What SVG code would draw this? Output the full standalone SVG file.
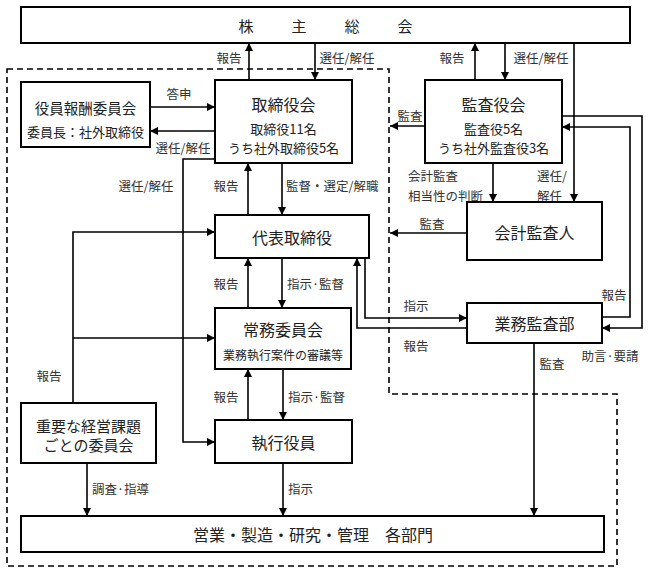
<svg xmlns="http://www.w3.org/2000/svg" width="648" height="574" viewBox="0 0 648 574">
<style>
  .box{fill:#fff;stroke:#000;stroke-width:2}
  .t{font-family:"Noto Sans CJK JP","Noto Sans CJK SC",sans-serif;fill:#222;text-anchor:middle;dominant-baseline:central}
  .title{font-size:16px}
  .sub{font-size:13px}
  .lbl{font-family:"Noto Sans CJK JP","Noto Sans CJK SC",sans-serif;fill:#333;font-size:12.5px;dominant-baseline:central}
  .m{text-anchor:middle}
  .s{text-anchor:start}
  .c{fill:none;stroke:#000;stroke-width:1.6}
  .a{marker-end:url(#ah)}
  .dash{fill:none;stroke:#000;stroke-width:1.6;stroke-dasharray:6 4}
</style>
<defs>
  <marker id="ah" markerUnits="userSpaceOnUse" markerWidth="9" markerHeight="9" refX="8" refY="4" orient="auto">
    <path d="M0,0 L8,4 L0,8 z" fill="#000"/>
  </marker>
</defs>
<rect width="648" height="574" fill="#fff"/>

<path class="dash" d="M7,69 H389 V394 H617 V566 H7 Z"/>

<g id="connectors">
  <line class="c a" x1="249" y1="80" x2="249" y2="43"/>
  <line class="c a" x1="315" y1="43" x2="315" y2="80"/>
  <line class="c a" x1="475" y1="80" x2="475" y2="43"/>
  <line class="c a" x1="505" y1="43" x2="505" y2="80"/>
  <line class="c a" x1="574" y1="43" x2="574" y2="202"/>
  <line class="c a" x1="150" y1="107" x2="215" y2="107"/>
  <line class="c a" x1="215" y1="131" x2="150" y2="131"/>
  <line class="c a" x1="425" y1="126" x2="390" y2="126"/>
  <path class="c a" d="M215,159 H183 V442 H215"/>
  <line class="c a" x1="248" y1="215" x2="248" y2="163"/>
  <line class="c a" x1="282" y1="163" x2="282" y2="215"/>
  <line class="c a" x1="248" y1="308" x2="248" y2="258"/>
  <line class="c a" x1="282" y1="258" x2="282" y2="308"/>
  <line class="c a" x1="248" y1="420" x2="248" y2="369"/>
  <line class="c a" x1="283" y1="369" x2="283" y2="420"/>
  <path class="c a" d="M73,403 V232 H215"/>
  <line class="c a" x1="73" y1="338" x2="215" y2="338"/>
  <path class="c a" d="M365,258 V318 H467"/>
  <path class="c a" d="M467,328 H357 V258"/>
  <line class="c a" x1="467" y1="233" x2="390" y2="233"/>
  <line class="c a" x1="493" y1="163" x2="493" y2="202"/>
  <path class="c a" d="M562,116 H642 V328 H602"/>
  <path class="c a" d="M602,317 H630 V127 H562"/>
  <line class="c a" x1="534" y1="343" x2="534" y2="516"/>
  <line class="c a" x1="87" y1="463" x2="87" y2="516"/>
  <line class="c a" x1="283" y1="463" x2="283" y2="516"/>

  <text class="lbl m" x="229" y="57">報告</text>
  <text class="lbl m" x="347" y="57">選任/解任</text>
  <text class="lbl m" x="452" y="57">報告</text>
  <text class="lbl m" x="541" y="57">選任/解任</text>
  <text class="lbl m" x="179" y="93">答申</text>
  <text class="lbl m" x="183" y="147">選任/解任</text>
  <text class="lbl m" x="410" y="115">監査</text>
  <text class="lbl m" x="146" y="185">選任/解任</text>
  <text class="lbl m" x="226" y="185">報告</text>
  <text class="lbl s" x="286" y="185">監督・選定/解職</text>
  <text class="lbl s" x="408" y="175.5">会計監査</text>
  <text class="lbl s" x="408" y="195">相当性の判断</text>
  <text class="lbl s" x="537" y="175.5">選任/</text>
  <text class="lbl s" x="537" y="195">解任</text>
  <text class="lbl m" x="432" y="223">監査</text>
  <text class="lbl m" x="226" y="283">報告</text>
  <text class="lbl s" x="287" y="283">指示·監督</text>
  <text class="lbl m" x="416" y="305">指示</text>
  <text class="lbl m" x="416" y="345">報告</text>
  <text class="lbl m" x="614" y="294">報告</text>
  <text class="lbl m" x="610" y="355">助言·要請</text>
  <text class="lbl m" x="552" y="363">監査</text>
  <text class="lbl m" x="49" y="375">報告</text>
  <text class="lbl m" x="226" y="396">報告</text>
  <text class="lbl s" x="288" y="396">指示·監督</text>
  <text class="lbl s" x="92" y="488">調査·指導</text>
  <text class="lbl s" x="288" y="488">指示</text>
</g>

<g id="shareholders">
  <rect class="box" x="21" y="7" width="609" height="36"/>
  <text class="t" y="25" style="font-size:15px"><tspan x="246">株</tspan><tspan x="299">主</tspan><tspan x="352">総</tspan><tspan x="405">会</tspan></text>
</g>
<g id="compensation">
  <rect class="box" x="21" y="82" width="129" height="65"/>
  <text class="t" x="85.5" y="107" style="font-size:14.5px">役員報酬委員会</text>
  <text class="t sub" x="85.5" y="131">委員長：社外取締役</text>
</g>
<g id="board">
  <rect class="box" x="215" y="80" width="137" height="83"/>
  <text class="t title" x="283.5" y="104">取締役会</text>
  <text class="t sub" x="283.5" y="128">取締役11名</text>
  <text class="t sub" x="283.5" y="147">うち社外取締役5名</text>
</g>
<g id="auditors">
  <rect class="box" x="425" y="80" width="137" height="83"/>
  <text class="t title" x="493.5" y="104">監査役会</text>
  <text class="t sub" x="493.5" y="128">監査役5名</text>
  <text class="t sub" x="493.5" y="147">うち社外監査役3名</text>
</g>
<g id="representative">
  <rect class="box" x="215" y="215" width="154" height="43"/>
  <text class="t title" x="292" y="237">代表取締役</text>
</g>
<g id="accounting-auditor">
  <rect class="box" x="467" y="202" width="135" height="58"/>
  <text class="t title" x="534.5" y="232">会計監査人</text>
</g>
<g id="executive-committee">
  <rect class="box" x="215" y="308" width="136" height="61"/>
  <text class="t title" x="283" y="329">常務委員会</text>
  <text class="t" x="283" y="354" style="font-size:12px">業務執行案件の審議等</text>
</g>
<g id="internal-audit">
  <rect class="box" x="467" y="303" width="135" height="40"/>
  <text class="t title" x="534.5" y="323">業務監査部</text>
</g>
<g id="issue-committees">
  <rect class="box" x="21" y="403" width="135" height="60"/>
  <text class="t" x="88.5" y="425" style="font-size:15px">重要な経営課題</text>
  <text class="t" x="88.5" y="444" style="font-size:15px">ごとの委員会</text>
</g>
<g id="officers">
  <rect class="box" x="215" y="420" width="137" height="43"/>
  <text class="t title" x="283.5" y="442">執行役員</text>
</g>
<g id="departments">
  <rect class="box" x="21" y="516" width="583" height="36"/>
  <text class="t title" x="313" y="534">営業・製造・研究・管理　各部門</text>
</g>
</svg>
